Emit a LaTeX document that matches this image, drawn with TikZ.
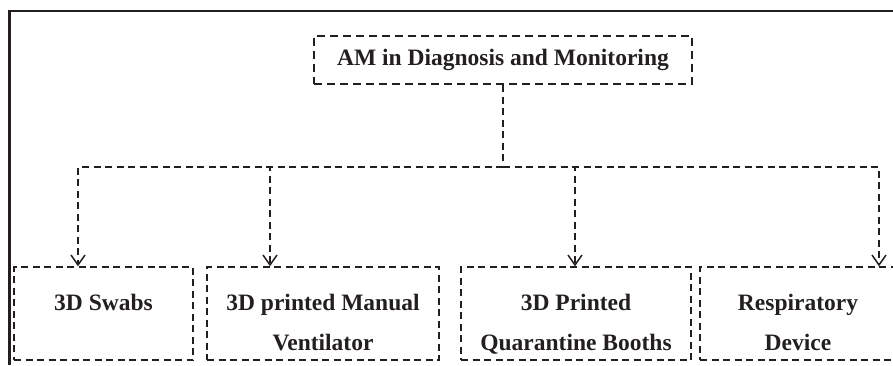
\documentclass[tikz,border=0pt]{standalone}
\usepackage{fontspec}
\setmainfont{Liberation Serif}
\usetikzlibrary{arrows.meta}
\definecolor{ink}{RGB}{35,31,32}
\begin{document}
\begin{tikzpicture}[x=1pt, y=-1pt, ink,
		every node/.style={font=\bfseries\fontsize{23.5}{40}\selectfont, align=center},
		rootbox/.style={draw, line width=2pt, dash pattern=on 8pt off 5pt,
		minimum width=378pt, minimum height=48pt},
		leafbox/.style={draw, line width=1.4pt, dash pattern=on 7pt off 4.5pt,
		minimum height=93pt, inner ysep=0pt, text height=78pt, text depth=5pt},
		oneline/.style={text height=23pt, text depth=30pt},
		link/.style={line width=1.4pt, dash pattern=on 7pt off 4.5pt},
		arr/.style={link, -{Straight Barb[length=10pt, width=14pt, line width=1.5pt]}} ]
	\useasboundingbox (0,0) rectangle (893,365);
	\draw[line width=2.5pt] (893,11) -- (9.5,11) -- (9.5,365);
	\node[rootbox] (root) at (503,60) {AM in Diagnosis and Monitoring};
	\node[leafbox, oneline, minimum width=179pt] (swabs) at (103.5,313.5) {3D Swabs};
	\node[leafbox, minimum width=232pt] (vent) at (323,313.5) {3D printed Manual\\Ventilator};
	\node[leafbox, minimum width=230pt] (booth) at (576,313.5) {3D Printed\\Quarantine Booths};
	\node[leafbox, minimum width=196pt] (resp) at (798,313.5) {Respiratory\\Device};
	\coordinate (bus) at (503,167);
	\draw[link] (root.south) -- (bus);
	\draw[arr] (bus) -| ([xshift=-25.5pt]swabs.north);
	\draw[arr] (bus) -| ([xshift=-53pt]vent.north);
	\draw[arr] (bus) -| ([xshift=-1pt]booth.north);
	\draw[arr] (bus) -| ([xshift=81pt]resp.north);
\end{tikzpicture}
\end{document}
